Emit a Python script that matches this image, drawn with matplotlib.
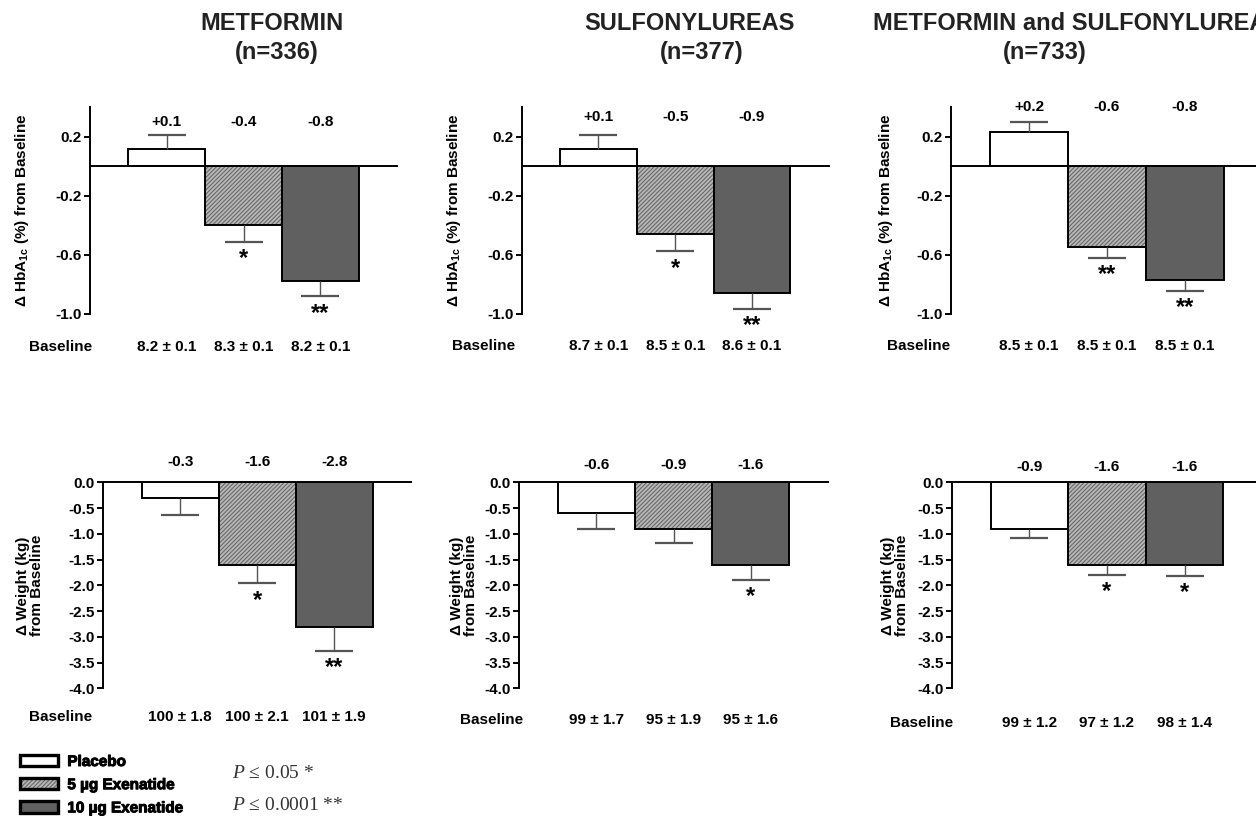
import numpy as np
import matplotlib
matplotlib.use("Agg")
import matplotlib.pyplot as plt
import matplotlib.transforms as mtransforms
import matplotlib.patheffects as pe
from matplotlib.patches import Patch
from matplotlib.ticker import FormatStrFormatter

plt.rcParams['font.family'] = ['Liberation Sans', 'DejaVu Sans']
plt.rcParams['font.weight'] = 'bold'
plt.rcParams['axes.labelweight'] = 'bold'
plt.rcParams['axes.unicode_minus'] = False
plt.rcParams['mathtext.fontset'] = 'custom'
plt.rcParams['mathtext.it'] = 'Liberation Serif:italic:weight=normal'
plt.rcParams['mathtext.rm'] = 'Liberation Serif:weight=normal'
plt.rcParams['hatch.color'] = '#686868'
plt.rcParams['hatch.linewidth'] = 0.8

# data
groups = ["Placebo", "5 µg Exenatide", "10 µg Exenatide"]
titles = ["METFORMIN", "SULFONYLUREAS", "METFORMIN and SULFONYLUREAS"]
n_text = ["(n=336)", "(n=377)", "(n=733)"]

hba1c = [[0.12, -0.40, -0.78], [0.12, -0.46, -0.86], [0.23, -0.55, -0.77]]
hba1c_se = [[0.095, 0.11, 0.10], [0.095, 0.115, 0.105], [0.07, 0.07, 0.075]]
hba1c_lbl = [["+0.1", "-0.4", "-0.8"], ["+0.1", "-0.5", "-0.9"], ["+0.2", "-0.6", "-0.8"]]
hba1c_star = [["", "*", "**"], ["", "*", "**"], ["", "**", "**"]]
hba1c_base = [["8.2 ± 0.1", "8.3 ± 0.1", "8.2 ± 0.1"],
              ["8.7 ± 0.1", "8.5 ± 0.1", "8.6 ± 0.1"],
              ["8.5 ± 0.1", "8.5 ± 0.1", "8.5 ± 0.1"]]

weight = [[-0.30, -1.60, -2.80], [-0.60, -0.90, -1.60], [-0.90, -1.61, -1.61]]
weight_se = [[0.34, 0.36, 0.47], [0.31, 0.27, 0.29], [0.17, 0.18, 0.20]]
weight_lbl = [["-0.3", "-1.6", "-2.8"], ["-0.6", "-0.9", "-1.6"], ["-0.9", "-1.6", "-1.6"]]
weight_star = [["", "*", "**"], ["", "", "*"], ["", "*", "*"]]
weight_base = [["100 ± 1.8", "100 ± 2.1", "101 ± 1.9"],
               ["99 ± 1.7", "95 ± 1.9", "95 ± 1.6"],
               ["99 ± 1.2", "97 ± 1.2", "98 ± 1.4"]]

# styles / layout (figure pixels)
W, H = 1256, 819
colors = ['white', '#b8b8b8', '#5f605f']
hatches = [None, '////////', None]
top_rects = [(90, 307), (521.7, 307), (951, 312)]
bot_rects = [(103.3, 308), (519, 309), (951.7, 310.4)]
top_lab_y = [0.931, 0.955, 1.0]
bot_lab_y = [1.101, 1.085, 1.077]
top_base_y = [-0.163, -0.156, -0.155]
bot_base_y = [-0.138, -0.154, -0.167]
top_base_x = [-1.38, -1.5, -1.41]
bot_base_x = [-1.56, -1.35, -1.39]
top_ylab_dx = [-68, -68, -65]
bot_ylab_dx = [-73, -55, -57]

fig = plt.figure(figsize=(W / 100, H / 100), dpi=100)


def panel(ax, vals, se, lbls, stars, base, width_px, lab_y, base_y, base_x, ylab_dx):
    x = np.arange(3)
    fills = ax.bar(x, vals, width=1.0, color=colors, linewidth=0, zorder=2)
    for p, h in zip(fills, hatches):
        if h:
            p.set_hatch(h)
    ax.bar(x, vals, width=1.0, fill=False, edgecolor='black', linewidth=1.4, zorder=3)
    for i in range(3):
        lo, hi = (se[i], 0) if vals[i] < 0 else (0, se[i])
        _, caps, _ = ax.errorbar(x[i], vals[i], yerr=[[lo], [hi]], fmt='none',
                                 ecolor='#555555', elinewidth=1.0, capsize=14,
                                 capthick=1.6, zorder=4)
        end_cap, bar_cap = (caps[0], caps[1]) if vals[i] < 0 else (caps[1], caps[0])
        bar_cap.set_visible(False)
        end_cap.set_color('black')
        if stars[i]:
            ax.annotate(stars[i], (x[i], vals[i] - se[i]), xytext=(0, -4),
                        textcoords='offset points', ha='center', va='top', fontsize=17)
    tr = mtransforms.blended_transform_factory(ax.transData, ax.transAxes)
    for i in range(3):
        ax.text(x[i], lab_y, lbls[i], transform=tr, ha='center', va='center', fontsize=11)
        ax.text(x[i], base_y, base[i], transform=tr, ha='center', va='center', fontsize=11)
    ax.text(base_x, base_y, "Baseline", transform=tr, ha='center', va='center', fontsize=11)
    ax.axhline(0, color='black', lw=1.4, zorder=5, clip_on=False)
    ax.set_xlim(-1, 3)
    ax.set_xticks([])
    for s in ['top', 'right', 'bottom']:
        ax.spines[s].set_visible(False)
    ax.spines['left'].set_linewidth(1.4)
    ax.tick_params(axis='y', direction='out', length=4, width=1.4, pad=2, labelsize=11)
    ax.yaxis.set_major_formatter(FormatStrFormatter('%.1f'))
    ax.yaxis.set_label_coords(ylab_dx / width_px, 0.5)


for k in range(3):
    left, wpx = top_rects[k]
    ax = fig.add_axes([left / W, (H - 313.8) / H, wpx / W, 206.4 / H])
    ax.set_ylim(-1.0, 0.4)
    ax.set_yticks([0.2, -0.2, -0.6, -1.0])
    ax.set_ylabel(r'Δ HbA$_{\mathregular{1c}}$ (%) from Baseline', fontsize=11, va='center')
    panel(ax, hba1c[k], hba1c_se[k], hba1c_lbl[k], hba1c_star[k], hba1c_base[k], wpx,
          top_lab_y[k], top_base_y[k], top_base_x[k], top_ylab_dx[k])

    left, wpx = bot_rects[k]
    ax = fig.add_axes([left / W, (H - 688.3) / H, wpx / W, 205.8 / H])
    ax.set_ylim(-4.0, 0.0)
    ax.set_yticks(np.arange(0, -4.5, -0.5))
    ax.set_ylabel('Δ Weight (kg)\nfrom Baseline', fontsize=11, va='center', linespacing=1.0)
    panel(ax, weight[k], weight_se[k], weight_lbl[k], weight_star[k], weight_base[k],
          wpx, bot_lab_y[k], bot_base_y[k], bot_base_x[k], bot_ylab_dx[k])

# titles (the third one runs off the right edge, as in the original)
title_x = [200, 584.3, 873.3]
n_x = [235, 660, 1002.7]
for k in range(3):
    fig.text(title_x[k] / W, 1 - 23 / H, titles[k], ha='left', va='center', fontsize=17, color='#222222')
    fig.text(n_x[k] / W, 1 - 53 / H, n_text[k], ha='left', va='center', fontsize=17, color='#222222')

handles = []
for c, h in zip(colors, hatches):
    handles.append((Patch(facecolor=c, hatch=h, linewidth=0),
                    Patch(fill=False, edgecolor='black', linewidth=2.4)))
leg = fig.legend(handles, groups, loc='upper left', bbox_to_anchor=(20 / W, 1 - 755 / H),
                 frameon=False, handlelength=2.5, handleheight=0.75, handletextpad=0.6,
                 labelspacing=0.6, borderpad=0, borderaxespad=0,
                 prop={'size': 11, 'weight': 'bold'})
for t in leg.get_texts():
    t.set_path_effects([pe.withStroke(linewidth=0.7, foreground='black')])

fig.text(232 / W, 1 - 773 / H, r'$P$ ≤ 0.05 *', family='Liberation Serif', weight='normal',
         fontsize=14, color='#333333', va='center')
fig.text(232 / W, 1 - 805 / H, r'$P$ ≤ 0.0001 **', family='Liberation Serif', weight='normal',
         fontsize=14, color='#333333', va='center')

fig.savefig('out.png', dpi=100)
